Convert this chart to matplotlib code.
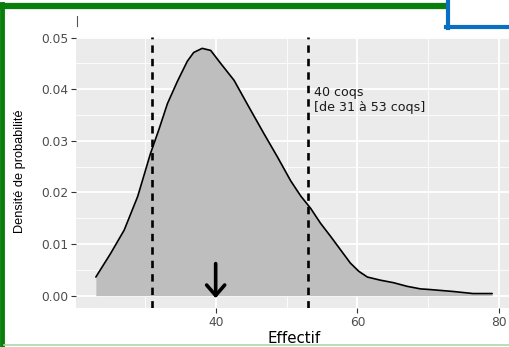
import matplotlib.pyplot as plt
from matplotlib import font_manager
from matplotlib.lines import Line2D

# density curve
effectif = [23.1, 25.2, 27.1, 29.0, 30.8, 32.0, 33.2, 34.6, 36.0, 36.9, 38.1, 39.3,
            40.7, 42.6, 44.5, 46.8, 48.7, 50.6, 52.0, 53.4, 54.8, 56.2, 57.6, 59.0,
            60.2, 61.4, 63.2, 65.1, 67.0, 68.9, 70.0, 73.5, 76.3, 79.0]
densite = [0.0036, 0.0082, 0.0127, 0.0192, 0.0275, 0.0322, 0.0372, 0.0415, 0.0454,
           0.0471, 0.0479, 0.0475, 0.0450, 0.0417, 0.0370, 0.0314, 0.0269, 0.0222,
           0.0193, 0.0169, 0.0140, 0.0115, 0.0089, 0.0063, 0.0047, 0.0036, 0.0030,
           0.0025, 0.0018, 0.0013, 0.0012, 0.0008, 0.0004, 0.0004]

ic_bas, ic_haut = 31, 53
mediane = 40
label = "40 coqs\n[de 31 à 53 coqs]"
x_ticks = [40, 60, 80]
x_minor = [30, 50, 70]
y_ticks = [0.00, 0.01, 0.02, 0.03, 0.04, 0.05]
y_minor = [0.005, 0.015, 0.025, 0.035, 0.045]

names = {f.name for f in font_manager.fontManager.ttflist}
narrow = 'Liberation Sans Narrow' if 'Liberation Sans Narrow' in names else 'Liberation Sans'
plt.rcParams['font.family'] = ['DejaVu Sans']

fig = plt.figure(figsize=(5.09, 3.47), dpi=100)
ax = fig.add_axes([76/509, 1 - 308/347, 436/509, 271/347])
ax.set_facecolor('#EBEBEB')

ax.fill_between(effectif, densite, 0, color='#BEBEBE', lw=0, zorder=2)
ax.plot(effectif, densite, color='black', lw=1.2, zorder=3,
        solid_joinstyle='round', solid_capstyle='round')

for v in (ic_bas, ic_haut):
    ax.axvline(v, color='black', lw=1.9, linestyle=(0, (2.8, 2.3)), zorder=4)

ax.annotate('', xy=(mediane, -0.0005), xytext=(mediane, 0.0062),
            arrowprops=dict(arrowstyle='->,head_length=0.75,head_width=0.65',
                            color='black', lw=2.6, shrinkA=0, shrinkB=0), zorder=5)
ax.text(ic_haut + 0.85, 0.0406, label, fontsize=9.1, va='top', ha='left',
        color='#1A1A1A', linespacing=1.15, zorder=5)

ax.set_xlim(20.3, 81.8)
ax.set_ylim(-0.0024, 0.0501)
ax.set_xticks(x_ticks)
ax.set_xticks(x_minor, minor=True)
ax.set_yticks(y_ticks)
ax.set_yticks(y_minor, minor=True)
ax.set_yticklabels([f"{t:.2f}" for t in y_ticks])
ax.grid(which='major', color='white', lw=1.3, zorder=0)
ax.grid(which='minor', color='white', lw=0.6, zorder=0)
ax.set_axisbelow(True)
for s in ax.spines.values():
    s.set_visible(False)
ax.tick_params(which='major', length=3.5, width=0.8, color='#333333',
               labelcolor='#4D4D4D', labelsize=8.8, pad=2)
ax.tick_params(which='minor', length=0)

ax.set_xlabel('Effectif', fontsize=10.8, color='black', labelpad=2)
fig.text(20/509, 1 - 171/347, 'Densité de probabilité', rotation=90,
         fontsize=10.3 if narrow != 'Liberation Sans' else 9.2,
         family=narrow, ha='center', va='center')

# screenshot frame
fig.add_artist(Line2D([0, 446/509], [1 - 6/347] * 2, color='#0A7E0A', lw=4.5))
fig.add_artist(Line2D([2/509] * 2, [1 - 4/347, 1 - 346/347], color='#0A7E0A', lw=3.5))
fig.add_artist(Line2D([4/509, 1], [1 - 345/347] * 2, color='#A8DCA8', lw=1.2))
fig.add_artist(Line2D([448/509] * 2, [1, 1 - 28/347], color='#0A6FC2', lw=3))
fig.add_artist(Line2D([446/509, 1], [1 - 27/347] * 2, color='#0A6FC2', lw=3))
fig.add_artist(Line2D([77/509] * 2, [1 - 16/347, 1 - 26/347], color='#555555', lw=0.8))

fig.savefig('out.png', dpi=100)
